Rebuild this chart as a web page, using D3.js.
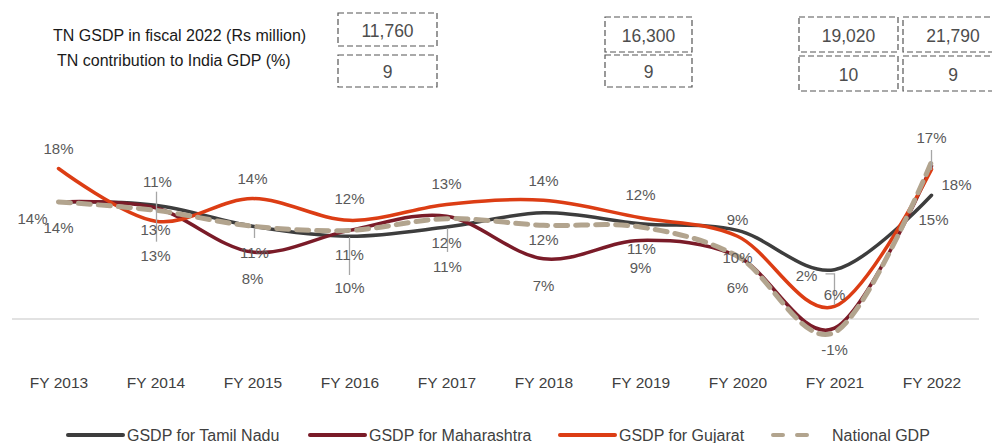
<!DOCTYPE html>
<html>
<head>
<meta charset="utf-8">
<script src="https://cdn.jsdelivr.net/npm/d3@7"></script>
<style>
  body { margin: 0; background: #fff; }
  text { font-family: Arial, "Liberation Sans", sans-serif; }
</style>
</head>
<body>
<div id="chart"></div>
<script>
// categories and series (growth, %)
var years = ["FY 2013", "FY 2014", "FY 2015", "FY 2016", "FY 2017", "FY 2018", "FY 2019", "FY 2020", "FY 2021", "FY 2022"];
var tamilNadu   = [14, 13.6, 11.1, 9.9, 11, 12.7, 11.4, 10.6, 5.9, 14.8];
var maharashtra = [14, 13.3, 8, 10.6, 12.3, 7.2, 9.4, 7.5, -1.1, 18.3];
var gujarat     = [18, 11.7, 14.4, 11.8, 13.7, 14.2, 12.1, 9.9, 1.5, 17.9];
var national    = [14, 13, 11.1, 10.6, 12, 11.2, 11, 7.5, -1.6, 18.8];

// table on top
var rowTitles = ["TN GSDP in fiscal 2022 (Rs million)", "TN contribution to India GDP (%)"];
var gsdpValues = ["11,760", "16,300", "19,020", "21,790"];
var shareValues = ["9", "9", "10", "9"];

// data labels shown on the chart: category index, series, text
var labelIdx    = [0, 0, 0, 1, 1, 1, 2, 2, 2, 3, 3, 3, 4, 4, 4, 5, 5, 5, 6, 6, 6, 7, 7, 7, 8, 8, 8, 9, 9, 9];
var labelSeries = ["gj", "tn", "mh", "gj", "tn", "nat", "gj", "nat", "mh", "gj", "mh", "tn", "gj", "nat", "tn",
                   "gj", "tn", "mh", "gj", "nat", "mh", "tn", "gj", "mh", "gj", "tn", "nat", "nat", "gj", "tn"];
var labelText   = ["18%", "14%", "14%", "11%", "13%", "13%", "14%", "11%", "8%", "12%", "11%", "10%", "13%", "12%", "11%",
                   "14%", "12%", "7%", "12%", "11%", "9%", "9%", "10%", "6%", "2%", "6%", "-1%", "17%", "18%", "15%"];

var series = [
  { key: "tn",  name: "GSDP for Tamil Nadu",   values: tamilNadu,   color: "#3d3d3d", dash: null },
  { key: "mh",  name: "GSDP for Maharashtra",  values: maharashtra, color: "#7a1b28", dash: null },
  { key: "gj",  name: "GSDP for Gujarat",      values: gujarat,     color: "#dc3d14", dash: null },
  { key: "nat", name: "National GDP",          values: national,    color: "#b2a48e", dash: "12,8" }
];
var byKey = {};
series.forEach(function(s) { byKey[s.key] = s; });

// layout
var width = 992, height = 443;
// [dx, dy] offsets of each data label's baseline from its point
var labelShift = [[0, -15], [-26, 22.5], [0, 31.5], [2, -34], [0, 30.2], [0, 50.2], [0, -15.1], [2, 32.3], [0, 31.4],
                  [0, -15.9], [0, 30.1], [0, 56.3], [0, -15], [0, 29.8], [1, 44.5], [0, -13.8], [0, 31.7], [0, 31.7],
                  [0, -18.3], [1, 26.5], [0, 32.1], [0, -4.9], [0, 26.3], [0, 37.2], [-28, -25], [0, 30.8], [0, 23.1],
                  [0, -19.3], [25, 21.1], [2, 30.2]];
// leader lines: label number, points relative to label baseline
var leaders = [
  [3,  [[-1, 4.5], [-1, 54.5]]],
  [7,  [[0, -30.5], [0, -20.5]]],
  [11, [[0, -55.5], [0, -17.5]]],
  [13, [[1, -20.5], [1, 3.5]]],
  [25, [[-9, -26.5], [0, -26.5], [0, 4.5]]],
  [27, [[0, 7.5], [0, 27.5]]]
];

var svg = d3.select("#chart").append("svg")
  .attr("width", width)
  .attr("height", height);

var x = d3.scalePoint()
  .domain(years)
  .range([58.5, 931.5]);

var y = d3.scaleLinear()
  .domain([0, 18])
  .range([319, 168.5]);

// --- top table ---
svg.selectAll(".rowTitle")
  .data(rowTitles)
  .enter().append("text")
  .attr("x", function(d, i) { return i == 0 ? 53 : 57; })
  .attr("y", function(d, i) { return i == 0 ? 41 : 66; })
  .style("font-size", "16px")
  .style("fill", "#1a1a1a")
  .text(function(d) { return d; });

var boxX = [338, 605, 799, 903];
var boxW = [99, 87, 99, 100];
var boxTop = [[13, 55], [17, 55], [17, 56], [17, 56]];
var boxH = [[33, 32], [35, 32], [35, 35], [35, 35]];

gsdpValues.forEach(function(v, i) {
  [v, shareValues[i]].forEach(function(t, r) {
    svg.append("rect")
      .attr("x", boxX[i])
      .attr("y", boxTop[i][r])
      .attr("width", boxW[i])
      .attr("height", boxH[i][r])
      .style("fill", "none")
      .style("stroke", "#555")
      .style("stroke-width", 1.2)
      .style("stroke-dasharray", "6,3");
    svg.append("text")
      .attr("x", boxX[i] + boxW[i] / 2)
      .attr("y", boxTop[i][r] + boxH[i][r] / 2 + 7)
      .style("font-size", "17.5px")
      .style("fill", "#4d4d4d")
      .style("text-anchor", "middle")
      .text(t);
  });
});

// --- zero line ---
svg.append("line")
  .attr("x1", 12).attr("x2", 979)
  .attr("y1", y(0)).attr("y2", y(0))
  .style("stroke", "#d9d9d9")
  .style("stroke-width", 1.5);

// --- lines ---
var line = d3.line()
  .x(function(d, i) { return x(years[i]); })
  .y(function(d) { return y(d); })
  .curve(d3.curveCardinal.tension(0));

svg.append("g")
  .selectAll("path")
  .data(series)
  .enter().append("path")
  .attr("d", function(d) { return line(d.values); })
  .style("fill", "none")
  .style("stroke", function(d) { return d.color; })
  .style("stroke-width", function(d) { return d.dash ? 5 : 3.5; })
  .style("stroke-dasharray", function(d) { return d.dash; })
  .style("stroke-linecap", "round");

// --- data labels ---
var labels = labelText.map(function(t, k) {
  var s = byKey[labelSeries[k]];
  var i = labelIdx[k];
  return {
    text: t,
    x: x(years[i]) + labelShift[k][0],
    y: y(s.values[i]) + labelShift[k][1]
  };
});

leaders.forEach(function(l) {
  var lab = labels[l[0]];
  svg.append("path")
    .attr("d", d3.line()(l[1].map(function(p) { return [lab.x + p[0], lab.y + p[1]]; })))
    .style("fill", "none")
    .style("stroke", "#a6a6a6")
    .style("stroke-width", 1.3);
});

svg.append("g")
  .selectAll("text")
  .data(labels)
  .enter().append("text")
  .attr("x", function(d) { return d.x; })
  .attr("y", function(d) { return d.y; })
  .style("font-size", "15px")
  .style("fill", "#595959")
  .style("text-anchor", "middle")
  .text(function(d) { return d.text; });

// --- x axis labels ---
var xAxis = svg.append("g")
  .attr("transform", "translate(0,383)")
  .call(d3.axisBottom(x).tickSize(0).tickPadding(0));
xAxis.select(".domain").remove();
xAxis.selectAll("text")
  .style("font-size", "15.5px")
  .style("fill", "#404040")
  .attr("dy", "0.35em");

// --- legend ---
var legX = [68, 310, 560, 773];
var legend = svg.append("g")
  .selectAll("g")
  .data(series)
  .enter().append("g")
  .attr("transform", function(d, i) { return "translate(" + legX[i] + ",435)"; });

legend.append("line")
  .attr("x1", 0).attr("x2", function(d) { return d.dash ? 46 : 55; })
  .style("stroke", function(d) { return d.color; })
  .style("stroke-width", 4)
  .style("stroke-dasharray", function(d) { return d.dash ? "10,14" : null; })
  .style("stroke-linecap", "round");

legend.append("text")
  .attr("x", 59)
  .attr("y", 5.5)
  .style("font-size", "16px")
  .style("fill", "#404040")
  .text(function(d) { return d.name; });
</script>
</body>
</html>
